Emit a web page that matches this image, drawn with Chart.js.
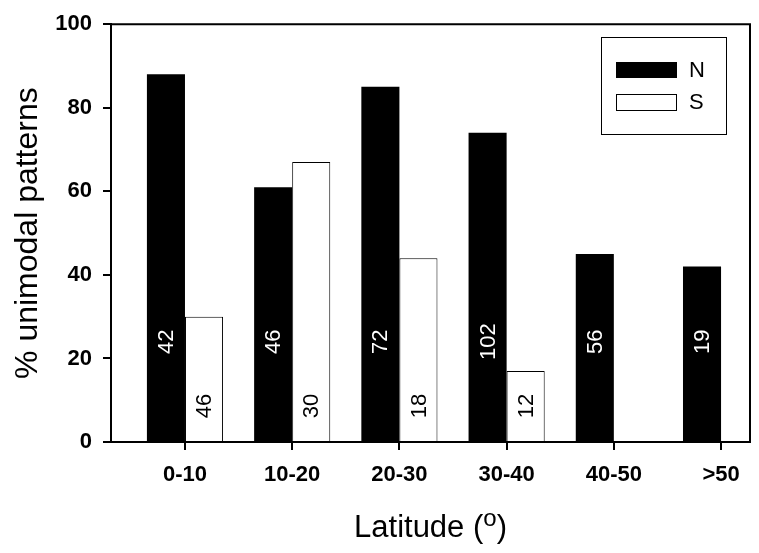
<!DOCTYPE html>
<html>
<head>
<meta charset="utf-8">
<script src="https://cdn.jsdelivr.net/npm/chart.js@4/dist/chart.umd.min.js"></script>
<style>
  html, body { margin: 0; padding: 0; background: #fff; }
  canvas { display: block; }
</style>
</head>
<body>
<canvas id="chart" width="759" height="553"></canvas>
<script>
// data
const categories = ['0-10', '10-20', '20-30', '30-40', '40-50', '>50'];
const positions = [1, 2, 3, 4, 5, 6];
const northValues = [88, 61, 85, 74, 45, 42];
const southValues = [30, 67, 44, 17, null, null];
// sample sizes written inside the bars
const northCounts = [42, 46, 72, 102, 56, 19];
const southCounts = [46, 30, 18, 12, null, null];
const yTicks = [0, 20, 40, 60, 80, 100];

const FONT = "Arial, 'Liberation Sans', sans-serif";

const toPoints = vals => positions.map((x, i) => ({ x: x, y: vals[i] }));

// titles, frame, in-bar counts and boxed legend
const extras = {
    id: 'extras',
    afterDatasetsDraw(chart) {
        const ctx = chart.ctx;
        const area = chart.chartArea;
        const ys = chart.scales.y;

        ctx.save();
        // top + right side of the frame
        ctx.strokeStyle = '#000';
        ctx.lineWidth = 2;
        ctx.beginPath();
        ctx.moveTo(area.left - 1, area.top);
        ctx.lineTo(area.right, area.top);
        ctx.lineTo(area.right, area.bottom + 1);
        ctx.stroke();

        // counts inside bars
        ctx.font = '22px ' + FONT;
        ctx.textAlign = 'center';
        ctx.textBaseline = 'middle';
        const drawCounts = (meta, counts, yVal, color) => {
            meta.data.forEach((bar, i) => {
                if (counts[i] == null) return;
                ctx.save();
                ctx.translate(bar.x + 1, ys.getPixelForValue(yVal));
                ctx.rotate(-Math.PI / 2);
                ctx.fillStyle = color;
                ctx.fillText(String(counts[i]), 0, 0);
                ctx.restore();
            });
        };
        drawCounts(chart.getDatasetMeta(0), northCounts, 24, '#fff');
        drawCounts(chart.getDatasetMeta(1), southCounts, 8.6, '#000');

        // legend
        ctx.lineWidth = 1;
        ctx.strokeStyle = '#000';
        ctx.strokeRect(601.5, 37.5, 125, 97);
        ctx.fillStyle = '#000';
        ctx.fillRect(616, 62, 61, 16);
        ctx.fillStyle = '#fff';
        ctx.fillRect(616.5, 94.5, 60, 16);
        ctx.strokeRect(616.5, 94.5, 60, 16);
        ctx.fillStyle = '#000';
        ctx.font = '22px ' + FONT;
        ctx.textAlign = 'left';
        ctx.textBaseline = 'middle';
        ctx.fillText(chart.data.datasets[0].label, 689, 71);
        ctx.fillText(chart.data.datasets[1].label, 689, 103);

        // y title
        ctx.save();
        ctx.font = '32px ' + FONT;
        ctx.textAlign = 'center';
        ctx.textBaseline = 'alphabetic';
        ctx.translate(37, (area.top + area.bottom) / 2);
        ctx.rotate(-Math.PI / 2);
        ctx.fillText('% unimodal patterns', 0, 0);
        ctx.restore();

        // x title with superscript o
        const main = 'Latitude (';
        const sup = 'o';
        const close = ')';
        ctx.textAlign = 'left';
        ctx.textBaseline = 'alphabetic';
        ctx.font = '31px ' + FONT;
        const w1 = ctx.measureText(main).width;
        const w3 = ctx.measureText(close).width;
        ctx.font = '24px ' + FONT;
        const w2 = ctx.measureText(sup).width;
        const total = w1 + w2 + w3;
        const x0 = (area.left + area.right) / 2 - total / 2;
        const base = 537;
        ctx.font = '31px ' + FONT;
        ctx.fillText(main, x0, base);
        ctx.font = '24px ' + FONT;
        ctx.fillText(sup, x0 + w1, base - 11);
        ctx.font = '31px ' + FONT;
        ctx.fillText(close, x0 + w1 + w2, base);
        ctx.restore();
    }
};

new Chart(document.getElementById('chart'), {
    type: 'bar',
    data: {
        datasets: [
            {
                label: 'N',
                data: toPoints(northValues),
                backgroundColor: '#000',
                borderColor: '#000',
                borderWidth: 0
            },
            {
                label: 'S',
                data: toPoints(southValues),
                backgroundColor: '#fff',
                borderColor: '#000',
                borderWidth: 1
            }
        ]
    },
    options: {
        responsive: false,
        animation: false,
        events: [],
        layout: { padding: { left: 0, right: 9, top: 15, bottom: 0 } },
        datasets: {
            bar: { categoryPercentage: 0.71, barPercentage: 1, grouped: true }
        },
        plugins: {
            legend: { display: false },
            tooltip: { enabled: false }
        },
        scales: {
            x: {
                type: 'linear',
                offset: false,
                min: 0.31,
                max: 6.27,
                afterFit: s => { s.height = 111; },
                afterBuildTicks: s => { s.ticks = positions.map(v => ({ value: v })); },
                ticks: {
                    autoSkip: false,
                    maxRotation: 0,
                    padding: 12,
                    color: '#000',
                    font: { family: FONT, size: 22, weight: 'bold' },
                    callback: v => categories[positions.indexOf(v)]
                },
                grid: {
                    offset: false,
                    drawOnChartArea: false,
                    drawTicks: true,
                    tickLength: 8,
                    color: '#000',
                    lineWidth: 2
                },
                border: { display: true, color: '#000', width: 2 }
            },
            y: {
                min: 0,
                max: 100,
                afterFit: s => { s.width = 111; },
                afterBuildTicks: s => { s.ticks = yTicks.map(v => ({ value: v })); },
                ticks: {
                    padding: 11,
                    color: '#000',
                    font: { family: FONT, size: 22, weight: 'bold' }
                },
                grid: {
                    drawOnChartArea: false,
                    drawTicks: true,
                    tickLength: 8,
                    color: '#000',
                    lineWidth: 2
                },
                border: { display: true, color: '#000', width: 2 }
            }
        }
    },
    plugins: [extras]
});
</script>
</body>
</html>
